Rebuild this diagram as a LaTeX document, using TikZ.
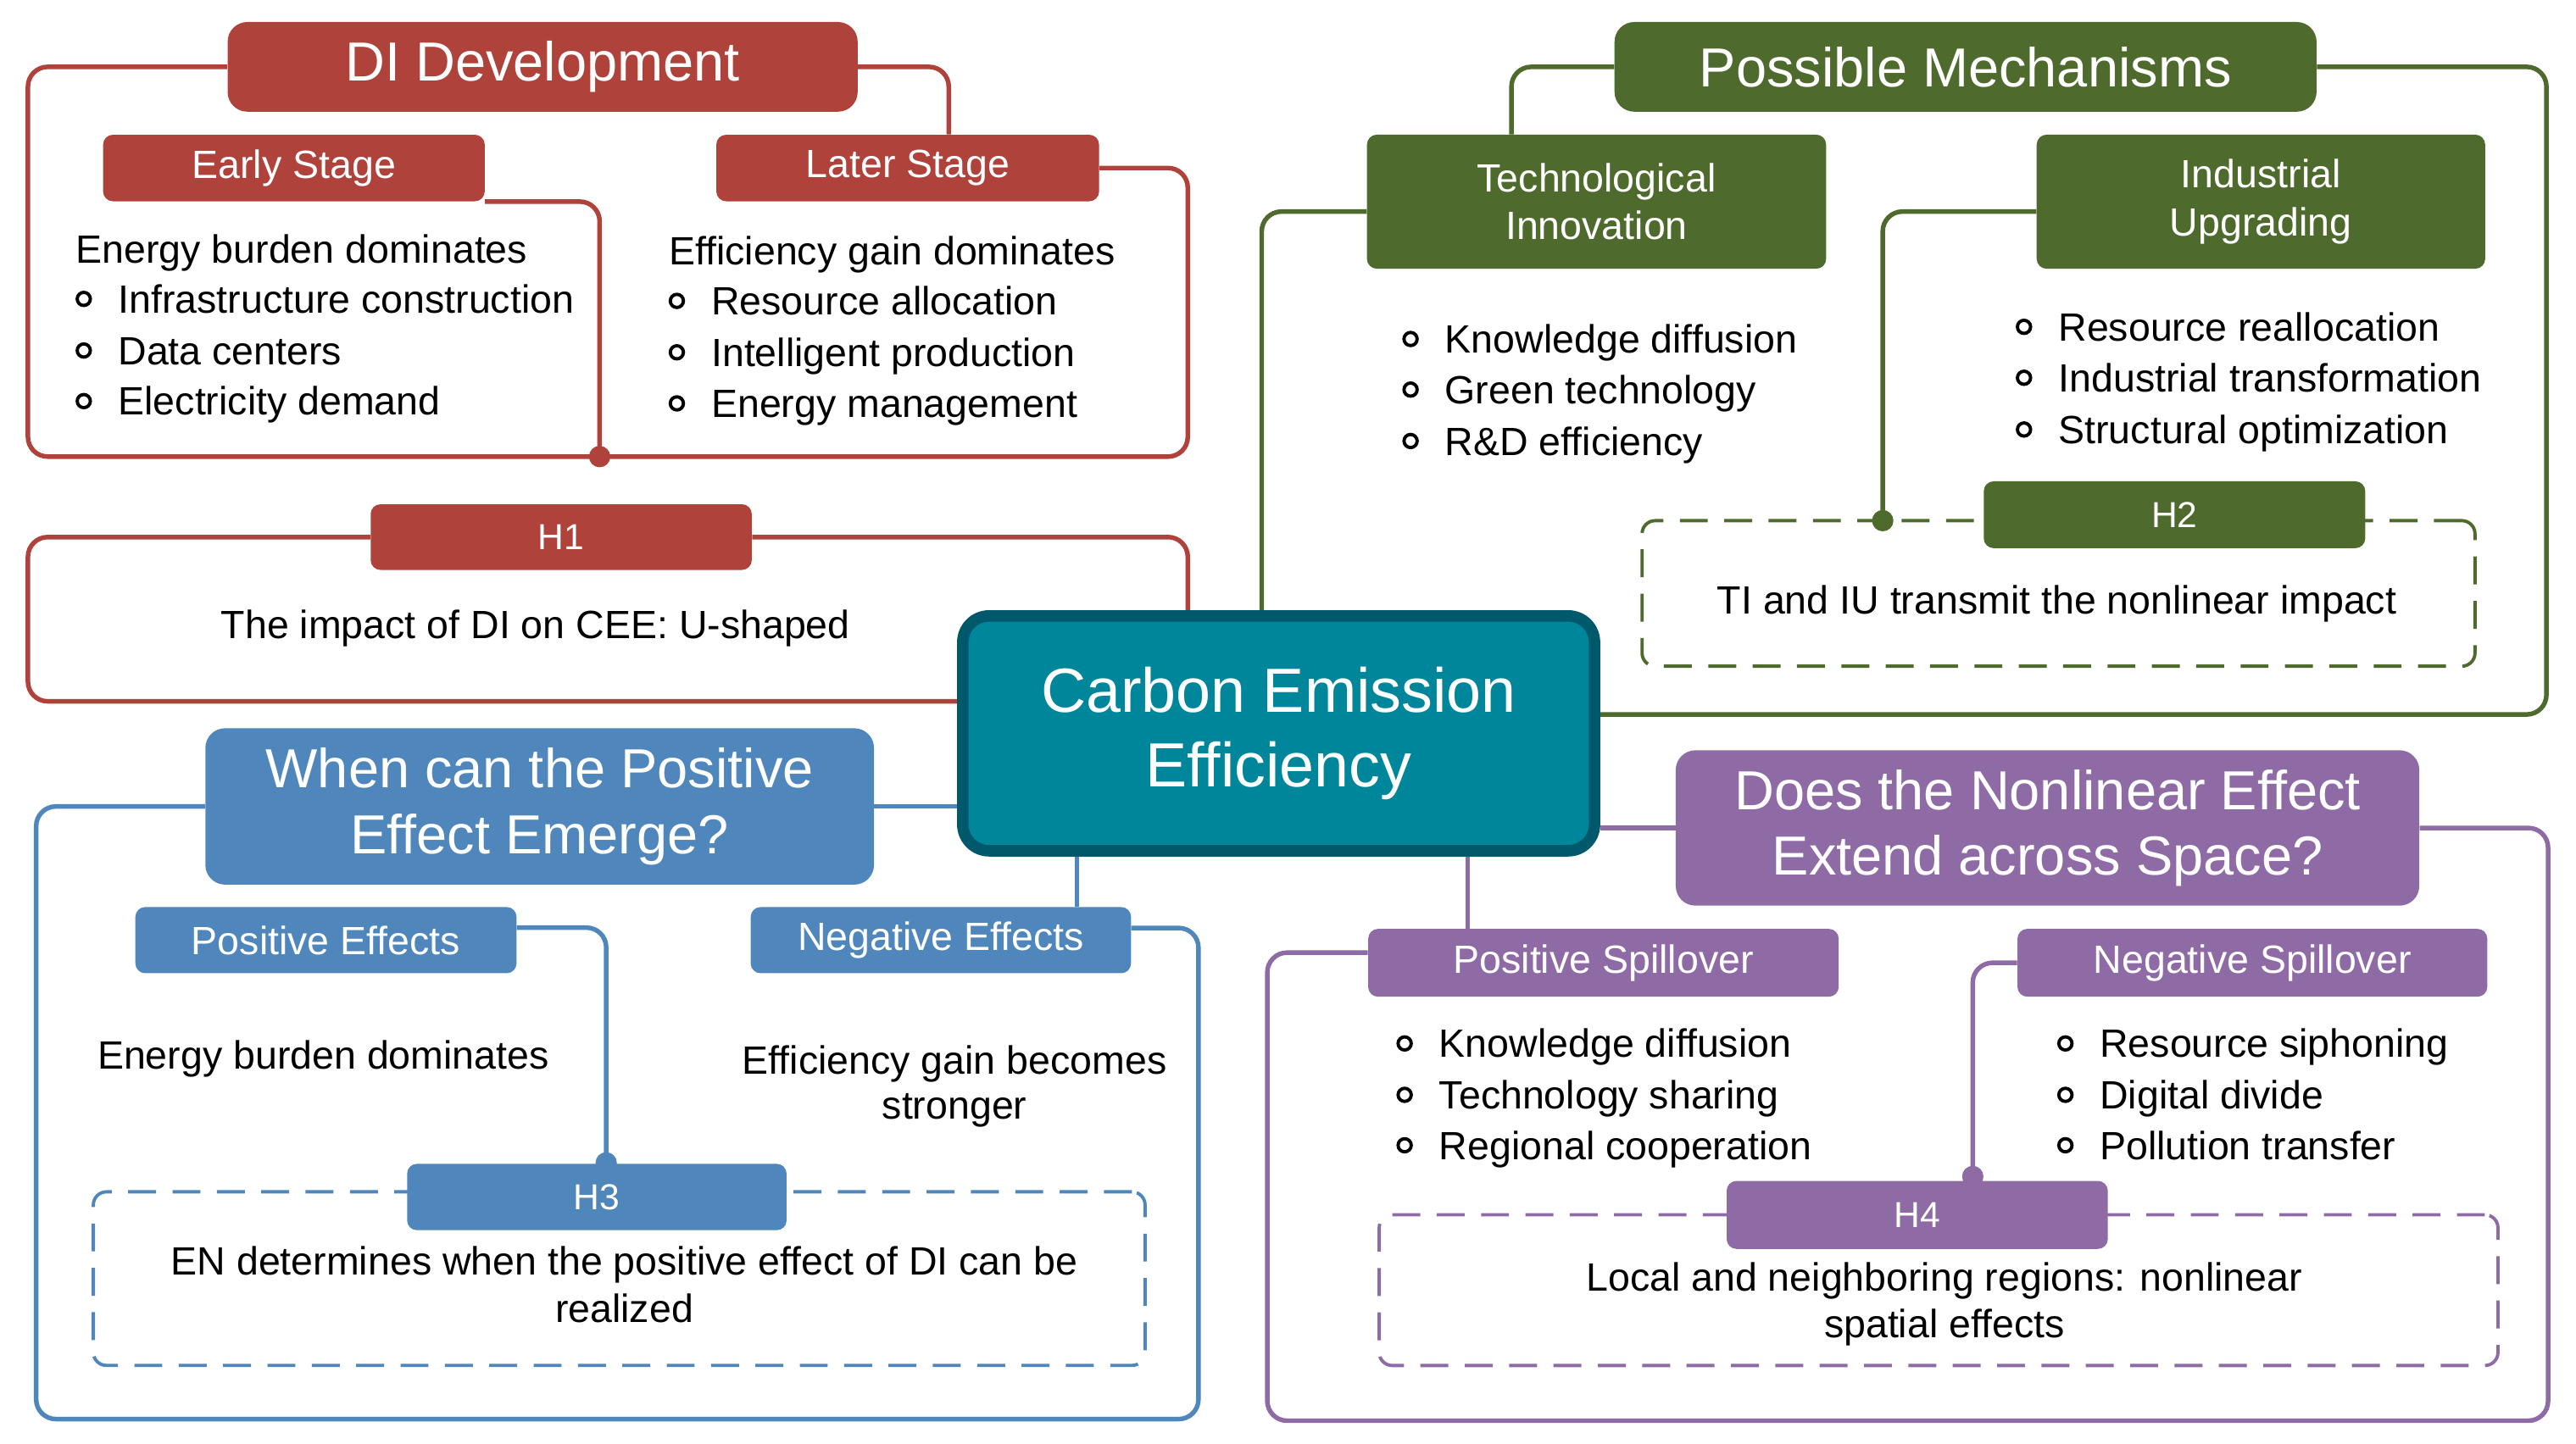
\documentclass[tikz,border=0pt]{standalone}
\usepackage{fontspec}
\setmainfont{Liberation Sans}
\usetikzlibrary{backgrounds,calc}
\definecolor{cred}{HTML}{B0423C}
\definecolor{cgreen}{HTML}{4E6B2D}
\definecolor{cblue}{HTML}{4F87BC}
\definecolor{cpurple}{HTML}{8F6BA6}
\definecolor{cteal}{HTML}{00869A}
\definecolor{ctealdark}{HTML}{00586B}
\newcommand{\mkitem}[4]{%
  \node[bul] (b#1) at (#2,#3) {};
  \node[body,anchor=base west] (t#1) at ($(b#1)+(20.8,8.6)$) {#4};}
\begin{document}
\begin{tikzpicture}[x=1pt,y=-1pt,
  lbl/.style={fill=#1, rounded corners=6pt, inner sep=0pt, text=white, align=center, font=\fontsize{24}{29}\selectfont},
  ttl/.style={fill=#1, rounded corners=12pt, inner sep=0pt, text=white, align=center, font=\fontsize{33.5}{40}\selectfont},
  hlbl/.style={lbl=#1, font=\fontsize{22}{26}\selectfont},
  body/.style={inner sep=0pt, text=black, font=\fontsize{24}{29}\selectfont},
  bul/.style={circle, draw=black, line width=2pt, minimum size=8pt, inner sep=0pt},
  conn/.style={line width=2.8pt, rounded corners=12pt},
  dbox/.style={draw=#1, line width=2pt, dash pattern=on 17pt off 10pt, rounded corners=8pt, inner sep=0pt, minimum width=10pt},
  jdot/.style={fill=#1}]
\useasboundingbox (0,0) rectangle (1568,879);

% helper coordinates
\coordinate (xR) at (723,0);
\coordinate (cA) at (17,278);
\coordinate (jr) at (365,278);
\coordinate (c1) at (17,427);
\coordinate (xg1) at (920,0);
\coordinate (cg) at (1550,435);
\coordinate (xg3) at (768,0);
\coordinate (jg) at (1146,317);
\coordinate (cb1) at (22,864);
\coordinate (cb2) at (729.5,565);
\coordinate (xb2) at (655.5,0);
\coordinate (jb) at (369,708);
\coordinate (cp1) at (1551,865);
\coordinate (cp2) at (771.4,580);
\coordinate (xp) at (893.5,0);
\coordinate (jp) at (1200.8,716.3);

% dashed frames
\node[dbox=cgreen, minimum width=507pt, minimum height=88.6pt] (d2) at (1253,361.3) {};
\node[dbox=cblue, minimum width=640.2pt, minimum height=105.7pt] (d3) at (376.9,778.5) {};
\node[dbox=cpurple, minimum width=681pt, minimum height=91.8pt] (d4) at (1180,785.5) {};

% central node
\node[fill=cteal, draw=ctealdark, line width=7pt, rounded corners=16pt, minimum width=384.5pt, minimum height=143pt, inner sep=0pt, text=white, align=center, font=\fontsize{38}{45.7}\selectfont] (cee) at (778.3,446.5) {Carbon Emission\\Efficiency};

% red group
\node[ttl=cred, minimum width=383.5pt, minimum height=54.6pt] (dev) at (330.3,40.7) {DI Development};
\node[lbl=cred, minimum width=232.3pt, minimum height=40.5pt] (early) at (178.9,102.3) {Early Stage};
\node[lbl=cred, minimum width=233pt, minimum height=40.5pt] (later) at (552.5,102.3) {Later Stage};
\node[hlbl=cred, minimum width=232pt, minimum height=40pt] (h1) at (341.6,327) {H1};
\node[body, anchor=base west] (rt1) at (46,160) {Energy burden dominates};
\mkitem{r1}{51}{182}{Infrastructure construction}
\mkitem{r2}{51}{213.4}{Data centers}
\mkitem{r3}{51}{244.2}{Electricity demand}
\node[body, anchor=base west] (rt2) at (407,161.4) {Efficiency gain dominates};
\mkitem{r4}{412}{183.2}{Resource allocation}
\mkitem{r5}{412}{214.5}{Intelligent production}
\mkitem{r6}{412}{245.6}{Energy management}
\node[body, anchor=base] (rh1) at (326,388.8) {The impact of DI on CEE: U-shaped};

% green group
\node[ttl=cgreen, minimum width=427.3pt, minimum height=54.6pt] (pm) at (1196.4,40.7) {Possible Mechanisms};
\node[lbl=cgreen, minimum width=279.5pt, minimum height=81.6pt] (ti) at (971.8,122.8) {Technological\\Innovation};
\node[lbl=cgreen, minimum width=273pt, minimum height=81.6pt] (iu) at (1376.2,122.8) {Industrial\\Upgrading};
\node[hlbl=cgreen, minimum width=232.2pt, minimum height=40.7pt] (h2) at (1323.6,313.4) {H2};
\mkitem{g1}{858.6}{206.4}{Knowledge diffusion}
\mkitem{g2}{858.6}{237.2}{Green technology}
\mkitem{g3}{858.6}{268.5}{R\&D efficiency}
\mkitem{g4}{1232}{199}{Resource reallocation}
\mkitem{g5}{1232}{230}{Industrial transformation}
\mkitem{g6}{1232}{261.5}{Structural optimization}
\node[body, anchor=base] (gh2) at (1252,374) {TI and IU transmit the nonlinear impact};

% blue group
\node[ttl=cblue, minimum width=407pt, minimum height=95.2pt] (wq) at (328.5,491) {When can the Positive\\Effect Emerge?};
\node[lbl=cblue, minimum width=232pt, minimum height=40.3pt] (pe) at (198.4,572.4) {Positive Effects};
\node[lbl=cblue, minimum width=231.5pt, minimum height=40.3pt] (ne) at (572.7,572.4) {Negative Effects};
\node[hlbl=cblue, minimum width=231pt, minimum height=40.4pt] (h3) at (363.3,728.8) {H3};
\node[body, anchor=base] (bt1) at (196.8,651) {Energy burden dominates};
\node[body, anchor=base] (bt2) at (581,653.8) {Efficiency gain becomes};
\node[body, anchor=base] (bt3) at (581,681.4) {stronger};
\node[body, anchor=base] (bh3a) at (380,776) {EN determines when the positive effect of DI can be};
\node[body, anchor=base] (bh3b) at (380,805.3) {realized};

% purple group
\node[ttl=cpurple, minimum width=452.6pt, minimum height=94.6pt] (dq) at (1246.3,504.1) {Does the Nonlinear Effect\\Extend across Space?};
\node[lbl=cpurple, minimum width=286.4pt, minimum height=41.3pt] (ps) at (976,586.2) {Positive Spillover};
\node[lbl=cpurple, minimum width=286pt, minimum height=41.3pt] (ns) at (1371,586.2) {Negative Spillover};
\node[hlbl=cpurple, minimum width=232pt, minimum height=41.4pt] (h4) at (1167,739.7) {H4};
\mkitem{p1}{855}{635.3}{Knowledge diffusion}
\mkitem{p2}{855}{666.6}{Technology sharing}
\mkitem{p3}{855}{697.3}{Regional cooperation}
\mkitem{p4}{1257.2}{635.3}{Resource siphoning}
\mkitem{p5}{1257.2}{666.6}{Digital divide}
\mkitem{p6}{1257.2}{697.3}{Pollution transfer}
\node[body, anchor=base] (ph4a) at (1183.5,786) {Local and neighboring regions: nonlinear};
\node[body, anchor=base] (ph4b) at (1183.5,814.4) {spatial effects};

% connectors
\begin{scope}[on background layer]
\draw[conn, cred] (dev.west) -| (cA) -| (xR |- later.east) -- (later.east);
\draw[conn, cred] (dev.east) -| ([xshift=25pt]later.north);
\draw[conn, cred] (early.south east) -| (jr);
\draw[conn, cred] (h1.west) -| (c1) -- (c1 -| cee.west);
\draw[conn, cred] (h1.east) -| (xR |- cee.north);

\draw[conn, cgreen] (pm.west) -| (xg1 |- ti.north);
\draw[conn, cgreen] (pm.east) -| (cg) -- (cg -| cee.east);
\draw[conn, cgreen] ([yshift=-6pt]ti.west) -| (xg3 |- cee.north);
\draw[conn, cgreen] ([yshift=-6pt]iu.west) -| (jg);

\draw[conn, cblue] (wq.west) -| (cb1) -| (cb2) -- (cb2 -| ne.east);
\draw[conn, cblue] (wq.east) -- (wq.east -| cee.west);
\draw[conn, cblue] (xb2 |- cee.south) -- (xb2 |- ne.north);
\draw[conn, cblue] ([yshift=7.6pt]pe.east) -| (jb);

\draw[conn, cpurple] (dq.west) -- (dq.west -| cee.east);
\draw[conn, cpurple] (dq.east) -| (cp1) -| (cp2) -- (cp2 -| ps.west);
\draw[conn, cpurple] (xp |- cee.south) -- (xp |- ps.north);
\draw[conn, cpurple] (ns.west) -| (jp);
\end{scope}

% junction dots
\fill[jdot=cred] (jr) circle (6.5pt);
\fill[jdot=cgreen] (jg) circle (6.5pt);
\fill[jdot=cblue] (jb) circle (6.5pt);
\fill[jdot=cpurple] (jp) circle (6.5pt);
\end{tikzpicture}
\end{document}
